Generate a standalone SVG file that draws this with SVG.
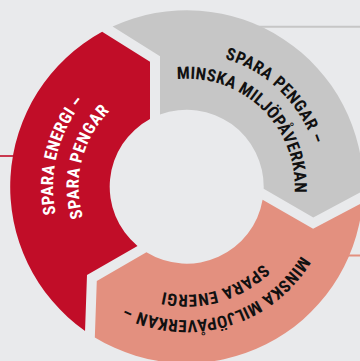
<svg xmlns="http://www.w3.org/2000/svg" width="360" height="361" viewBox="0 0 360 361">
<style>
.t{font-family:"Liberation Sans Narrow","Roboto Condensed","DejaVu Sans Condensed","Liberation Sans",Arial,sans-serif;font-weight:bold;font-size:17px;}
.light{fill:#ffffff}
.dark{fill:#111111}
.lead{fill:none}
</style>
<defs>
<path id="seg" d="M -74.12 -160.18 A 176.5 176.5 0 0 1 176.45 4.22 L 126.6 30.72 L 76.97 2.06 A 77 77 0 0 0 -26.7 -72.22 L -26.7 -130.54 Z"/>
<path id="arcO" d="M 53.7 175.06 A 133.5 133.5 0 0 1 319.7 175.06"/>
<path id="arcI" d="M 79.11 177.29 A 108 108 0 0 1 294.29 177.29"/>
</defs>
<rect width="360" height="361" fill="#e9eaec"/>
<g id="connectors">
<line class="lead" x1="258" y1="26.7" x2="360" y2="26.7" stroke="#c6c6c6" stroke-width="2"/>
<line class="lead" x1="0" y1="156" x2="16" y2="156" stroke="#c10d28" stroke-width="1.6"/>
<line class="lead" x1="345" y1="255.5" x2="360" y2="255.5" stroke="#e3907f" stroke-width="2"/>
</g>
<g id="node-spara-energi">
<use href="#seg" transform="translate(186.7 186.7) rotate(240)" fill="#c10d28"/>
<text class="t light" transform="rotate(-76 186.7 186.7)"><textPath href="#arcO" startOffset="50%" text-anchor="middle" textLength="120">SPARA ENERGI –</textPath></text>
<text class="t light" transform="rotate(-76 186.7 186.7)"><textPath href="#arcI" startOffset="50%" text-anchor="middle" textLength="115">SPARA PENGAR</textPath></text>
</g>
<g id="node-spara-pengar">
<use href="#seg" transform="translate(186.7 186.7)" fill="#c6c6c6"/>
<text class="t dark" transform="rotate(44 186.7 186.7)"><textPath href="#arcO" startOffset="50%" text-anchor="middle" textLength="128">SPARA PENGAR –</textPath></text>
<text class="t dark" transform="rotate(44 186.7 186.7)"><textPath href="#arcI" startOffset="50%" text-anchor="middle" textLength="185">MINSKA MILJÖPÅVERKAN</textPath></text>
</g>
<g id="node-minska">
<use href="#seg" transform="translate(186.7 186.7) rotate(120)" fill="#e3907f"/>
<text class="t dark" transform="rotate(164 186.7 186.7)"><textPath href="#arcO" startOffset="50%" text-anchor="middle" textLength="200">MINSKA MILJÖPÅVERKAN –</textPath></text>
<text class="t dark" transform="rotate(164 186.7 186.7)"><textPath href="#arcI" startOffset="50%" text-anchor="middle" textLength="108">SPARA ENERGI</textPath></text>
</g>
</svg>
